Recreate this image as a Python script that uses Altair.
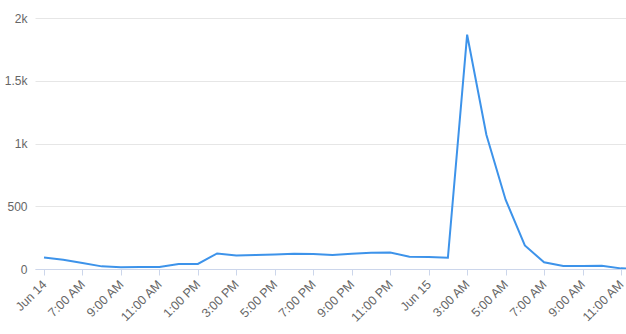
import json
import altair as alt
import pandas as pd

# hourly series, Jun 14 05:00 -> Jun 15 12:00 (UTC)
start = "2023-06-14 05:00"
counts = [92, 74, 48, 21, 14, 15, 16, 40, 40, 124, 108, 111, 115, 122, 120, 112, 122, 130, 132,
          98, 96, 90, 1867, 1070, 552, 188, 53, 24, 23, 26, 5, 0]
tick_labels = ["Jun 14", "7:00 AM", "9:00 AM", "11:00 AM", "1:00 PM", "3:00 PM", "5:00 PM",
               "7:00 PM", "9:00 PM", "11:00 PM", "Jun 15", "3:00 AM", "5:00 AM", "7:00 AM",
               "9:00 AM", "11:00 AM"]
y_ticks = [0, 500, 1000, 1500, 2000]

HOUR = 3600000
t0 = int(pd.Timestamp(start, tz="UTC").value // 1_000_000)
times = pd.date_range(start, periods=len(counts), freq="h", tz="UTC")
df = pd.DataFrame({"t": (times.asi8 // 1_000_000).astype("int64"), "v": counts})

tick_vals = [t0 + 2 * HOUR * i for i in range(len(tick_labels))]
t_last_tick = tick_vals[-1]
label_expr = f"{json.dumps(tick_labels)}[round((datum.value - {t0}) / {2 * HOUR})]"
y_label_expr = "datum.value >= 1000 ? format(datum.value / 1000, '~') + 'k' : format(datum.value, 'd')"

font = "Liberation Sans"
chart = alt.Chart(df).mark_line(color="#3d93ea", strokeWidth=2, clip=True).encode(
    x=alt.X("t:T",
            scale=alt.Scale(type="utc", domain=[t0 - 0.468 * HOUR, t_last_tick + 0.26 * HOUR]),
            axis=alt.Axis(values=tick_vals, labelExpr=label_expr, labelAngle=-45,
                          labelAlign="right", labelBaseline="middle", labelPadding=7,
                          grid=False, domainColor="#ccd6eb", tickColor="#ccd6eb",
                          tickSize=6, labelColor="#666666", labelFontSize=12.5,
                          labelFont=font, title=None, labelOverlap=False)),
    y=alt.Y("v:Q",
            scale=alt.Scale(domain=[0, 2000], nice=False),
            axis=alt.Axis(values=y_ticks, labelExpr=y_label_expr, domain=False, ticks=False,
                          gridColor="#e6e6e6", labelColor="#666666", labelFontSize=12,
                          labelFont=font, labelPadding=8, title=None)),
).properties(
    width=591, height=251,
    autosize=alt.AutoSizeParams(type="none"),
    padding={"left": 35, "top": 18, "right": 0, "bottom": 65},
).configure_view(stroke=None)

chart.save("out.html", embed_options={"renderer": "svg", "actions": False})
